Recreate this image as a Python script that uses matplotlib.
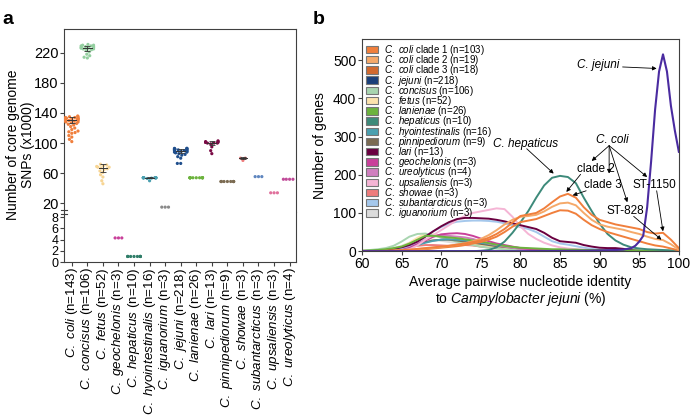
import warnings
import numpy as np
import pandas as pd
import matplotlib
matplotlib.use('Agg')
import matplotlib.pyplot as plt
from matplotlib.patches import Patch
import seaborn as sns

warnings.filterwarnings('ignore')

plt.rcParams['font.family'] = ['Liberation Sans', 'DejaVu Sans']
plt.rcParams['mathtext.fontset'] = 'custom'
plt.rcParams['mathtext.rm'] = 'Liberation Sans'
plt.rcParams['mathtext.it'] = 'Liberation Sans:italic'

# ---- panel a data (core genome SNPs, x1000) ----
species_a = ['coli', 'concisus', 'fetus', 'geochelonis', 'hepaticus', 'hyointestinalis',
             'iguanorium', 'jejuni', 'lanienae', 'lari', 'pinnipediorum', 'showae',
             'subantarcticus', 'upsaliensis', 'ureolyticus']
n_a = [143, 106, 52, 3, 10, 16, 3, 218, 26, 13, 9, 3, 3, 3, 4]
colors_a = ['#f07f3c', '#94cfa0', '#f7d594', '#c9409a', '#2f7d68', '#4aa0b0', '#8a8a8a',
            '#1f4e8c', '#6cb33e', '#7a0a45', '#7b6b52', '#ee7c7c', '#5f86bf', '#e0709c', '#c04a98']

coli_snp = [136, 135, 135, 134, 134, 133, 133, 133, 132, 132, 132, 131, 131, 131, 130, 130, 130,
            129, 129, 128, 128, 127, 126, 125, 124, 122, 120, 118, 116, 115, 114, 113, 110, 108, 105, 102]
concisus_snp = [231, 230, 230, 229, 229, 228, 228, 227, 227, 226, 226, 225, 225, 224, 223, 221,
                218, 216, 214, 213]
fetus_snp = [72, 71, 70, 69, 68, 68, 67, 66, 65, 63, 61, 58, 55, 50, 46]
geochelonis_snp = [4.3, 4.3, 4.3]
hepaticus_snp = [1.0, 1.0, 1.0, 1.0, 1.0, 1.0, 1.0, 1.0, 1.0, 1.0]
hyoint_snp = [54, 54, 54, 54, 54, 54, 54, 54, 54, 54, 54, 53.5, 53, 50]
iguanorium_snp = [15, 15, 15]
jejuni_snp = [93, 93, 93, 92, 92, 92, 92, 91, 91, 91, 90, 90, 90, 89, 89, 88, 88, 87, 86, 85,
              84, 82, 80, 73, 73]
lanienae_snp = [54, 54, 54, 54, 54, 54, 54, 54, 54, 54, 54, 54]
lari_snp = [103, 102, 102, 101, 101, 101, 100, 100, 100, 99, 95, 90, 86]
pinni_snp = [49, 49, 49, 49, 49, 49, 49, 49, 49]
showae_snp = [80, 80, 77]
subant_snp = [55.5, 55.5, 55.5]
upsal_snp = [34, 34, 34]
ureol_snp = [52, 52, 52, 52]

err_mean = [131, 226, 67, 4.3, 1.0, 54, 15, 90, 54, 100, 49, 80, 55.5, 34, 52]
err_sd = [4, 3.5, 5, 0, 0, 0.6, 0, 2.5, 0, 3, 0, 1.5, 0, 0, 0]

# ---- panel b data (distribution of gene identity) ----
ident = list(range(60, 101))
coli1 = [0, 0, 0, 1, 2, 3, 4, 6, 8, 10, 12, 14, 17, 20, 24, 28, 35, 45, 58, 75,
         92, 96, 100, 112, 128, 143, 150, 140, 115, 95, 82, 76, 70, 66, 62, 58, 50, 46, 48, 30, 8]
coli2 = [0, 0, 0, 0, 1, 2, 3, 5, 7, 9, 11, 14, 17, 21, 26, 32, 42, 55, 70, 82,
         90, 92, 95, 104, 116, 125, 127, 120, 100, 82, 70, 64, 60, 56, 50, 45, 38, 32, 29, 18, 4]
coli3 = [0, 0, 0, 0, 1, 1, 2, 3, 5, 7, 9, 11, 13, 16, 20, 24, 30, 38, 50, 64,
         76, 80, 84, 92, 100, 107, 106, 98, 82, 68, 58, 50, 44, 38, 32, 26, 20, 15, 12, 7, 2]
hepaticus = [0, 0, 0, 0, 0, 0, 0, 0, 0, 0, 0, 0, 0, 0, 0, 1, 3, 10, 25, 48,
             75, 105, 140, 172, 192, 197, 194, 178, 140, 105, 72, 45, 28, 17, 10, 7, 5, 4, 3, 2, 1]
lari = [0, 0, 1, 3, 6, 10, 16, 25, 38, 52, 65, 76, 84, 87, 87, 86, 85, 82, 78, 73,
        68, 63, 58, 48, 35, 26, 24, 22, 16, 12, 9, 8, 8, 6, 3, 1, 0, 0, 0, 0, 0]
subantarcticus = [0, 1, 2, 3, 5, 8, 14, 25, 38, 52, 63, 72, 77, 79, 80, 80, 79, 77, 73, 68,
                  63, 58, 50, 38, 26, 20, 17, 13, 9, 6, 4, 3, 2, 1, 0, 0, 0, 0, 0, 0, 0]
upsaliensis = [0, 0, 0, 0, 1, 2, 5, 15, 30, 42, 55, 68, 82, 92, 100, 104, 108, 112, 110, 90,
               65, 45, 32, 22, 15, 10, 7, 5, 4, 3, 2, 1, 1, 0, 0, 0, 0, 0, 0, 0, 0]
concisus = [1, 3, 5, 8, 14, 25, 38, 45, 46, 42, 36, 30, 25, 20, 16, 12, 9, 7, 5, 4,
            3, 2, 2, 1, 1, 1, 0, 0, 0, 0, 0, 0, 0, 0, 0, 0, 0, 0, 0, 0, 0]
fetus = [0, 0, 1, 3, 6, 12, 22, 35, 45, 44, 40, 35, 30, 25, 20, 15, 12, 9, 7, 5,
         4, 3, 2, 1, 1, 0, 0, 0, 0, 0, 0, 0, 0, 0, 0, 0, 0, 0, 0, 0, 0]
lanienae = [1, 2, 3, 5, 8, 12, 20, 30, 40, 40, 38, 36, 34, 31, 28, 25, 21, 17, 14, 11,
            9, 8, 7, 6, 5, 5, 4, 4, 3, 3, 3, 2, 2, 2, 2, 2, 1, 1, 1, 1, 0]
hyointestinalis = [0, 0, 1, 2, 3, 6, 10, 16, 22, 27, 30, 31, 30, 28, 25, 22, 19, 16, 13, 10,
                   8, 6, 5, 4, 3, 2, 1, 1, 0, 0, 0, 0, 0, 0, 0, 0, 0, 0, 0, 0, 0]
pinnipediorum = [0, 0, 1, 2, 4, 7, 12, 18, 24, 28, 30, 30, 28, 25, 22, 19, 16, 13, 11, 9,
                 7, 5, 4, 3, 2, 1, 1, 0, 0, 0, 0, 0, 0, 0, 0, 0, 0, 0, 0, 0, 0]
geochelonis = [0, 0, 1, 2, 4, 6, 10, 18, 28, 38, 44, 46, 47, 45, 40, 33, 26, 20, 16, 12,
               8, 6, 4, 3, 2, 1, 1, 0, 0, 0, 0, 0, 0, 0, 0, 0, 0, 0, 0, 0, 0]
ureolyticus = [0, 0, 1, 2, 4, 7, 12, 20, 30, 38, 42, 40, 38, 36, 32, 26, 20, 16, 12, 9,
               6, 4, 3, 2, 1, 1, 0, 0, 0, 0, 0, 0, 0, 0, 0, 0, 0, 0, 0, 0, 0]
showae = [1, 1, 2, 3, 4, 6, 10, 14, 16, 16, 15, 14, 15, 16, 15, 12, 10, 9, 8, 7,
          6, 5, 4, 3, 2, 2, 1, 1, 1, 0, 0, 0, 0, 0, 0, 0, 0, 0, 0, 0, 0]
iguanorium = [0, 1, 2, 4, 8, 14, 22, 30, 32, 30, 27, 24, 21, 18, 15, 12, 9, 7, 5, 4,
              3, 2, 1, 1, 0, 0, 0, 0, 0, 0, 0, 0, 0, 0, 0, 0, 0, 0, 0, 0, 0]
jejuni_x = [60, 70, 80, 88, 90, 92, 93, 94, 94.5, 95, 95.5, 96, 96.5, 97, 97.5, 98, 98.5, 99, 99.5, 100]
jejuni = [0, 0, 0, 1, 2, 3, 4, 8, 14, 25, 40, 115, 235, 370, 470, 515, 470, 380, 315, 260]

leg_labels = [r'$\it{C.\ coli}$ clade 1 (n=103)', r'$\it{C.\ coli}$ clade 2 (n=19)',
              r'$\it{C.\ coli}$ clade 3 (n=18)', r'$\it{C.\ jejuni}$ (n=218)',
              r'$\it{C.\ concisus}$ (n=106)', r'$\it{C.\ fetus}$ (n=52)',
              r'$\it{C.\ lanienae}$ (n=26)', r'$\it{C.\ hepaticus}$ (n=10)',
              r'$\it{C.\ hyointestinalis}$ (n=16)', r'$\it{C.\ pinnipediorum}$ (n=9)',
              r'$\it{C.\ lari}$ (n=13)', r'$\it{C.\ geochelonis}$ (n=3)',
              r'$\it{C.\ ureolyticus}$ (n=4)', r'$\it{C.\ upsaliensis}$ (n=3)',
              r'$\it{C.\ showae}$ (n=3)', r'$\it{C.\ subantarcticus}$ (n=3)',
              r'$\it{C.\ iguanorium}$ (n=3)']
leg_colors = ['#f07f3c', '#f5a96a', '#d2692e', '#1a3f7a', '#a8d5b0', '#fde3ad', '#6cb33e',
              '#3d8a7a', '#4aa0b0', '#7b6b52', '#6a0040', '#c9409a', '#cf7fbe', '#f5b5d5',
              '#ee7c7c', '#a5c8ec', '#dcdcdc']

# ---- figure ----
fig = plt.figure(figsize=(6.92, 4.2), dpi=100)
spc = '#404040'

axt = fig.add_axes([0.0925, 0.495, 0.335, 0.436])
axb = fig.add_axes([0.0925, 0.376, 0.335, 0.119])

snp_lists = [coli_snp, concisus_snp, fetus_snp, geochelonis_snp, hepaticus_snp, hyoint_snp,
             iguanorium_snp, jejuni_snp, lanienae_snp, lari_snp, pinni_snp, showae_snp,
             subant_snp, upsal_snp, ureol_snp]
rows = []
for sp, vals in zip(species_a, snp_lists):
    for v in vals:
        rows.append((sp, v))
df = pd.DataFrame(rows, columns=['species', 'snp'])
pal = dict(zip(species_a, colors_a))

top_lim = (8.4, 251.5)
bot_lim = (0, 8.9)
sns.swarmplot(data=df[df.snp > top_lim[0]], x='species', y='snp', order=species_a,
              hue='species', palette=pal, legend=False, size=2.3, ax=axt)
sns.swarmplot(data=df[df.snp <= top_lim[0]], x='species', y='snp', order=species_a,
              hue='species', palette=pal, legend=False, size=2.3, ax=axb)

# mean +/- sd bars
for i, (m, s) in enumerate(zip(err_mean, err_sd)):
    if s > 0:
        axt.errorbar(i, m, yerr=s, color='#333333', lw=0.6, capsize=2, capthick=0.6, zorder=5)
        axt.plot([i - 0.28, i + 0.28], [m, m], color='#333333', lw=0.7, zorder=5)

for ax in (axt, axb):
    ax.set_xlim(-0.5, 14.4)
    ax.set_xlabel('')
    ax.set_ylabel('')
    for s in ax.spines.values():
        s.set_color(spc)
        s.set_linewidth(0.8)
    ax.tick_params(direction='out', length=3, width=0.8, color=spc, labelsize=10.5, pad=1)

axt.set_ylim(*top_lim)
axt.set_yticks([20, 60, 100, 140, 180, 220])
axt.spines['bottom'].set_visible(False)
axt.tick_params(axis='x', bottom=False, labelbottom=False)

axb.set_ylim(*bot_lim)
axb.set_yticks([0, 2, 4, 6, 8])
axb.tick_params(axis='y', labelsize=9, pad=1)
axb.spines['top'].set_visible(False)
axb.set_xticks(range(len(species_a)))
xlabels = [r'$\it{C.\ %s}$ (n=%d)' % (sp, n) for sp, n in zip(species_a, n_a)]
axb.set_xticklabels(xlabels, rotation=90, fontsize=9.6)

# break marks on the left spine
axt.plot([-0.012, 0.012], [0.012, 0.012], transform=axt.transAxes,
         color=spc, lw=0.8, clip_on=False)
axb.plot([-0.012, 0.012], [0.96, 0.96], transform=axb.transAxes,
         color=spc, lw=0.8, clip_on=False)

fig.text(0.03, 0.655, 'Number of core genome\nSNPs (x1000)', rotation=90, ha='center',
         va='center', fontsize=10, linespacing=1.1)

# ---- panel b ----
axr = fig.add_axes([0.523, 0.402, 0.458, 0.505])
curves = [
    (iguanorium, '#dcdcdc'), (showae, '#ee7c7c'), (fetus, '#fde3ad'), (concisus, '#a8d5b0'),
    (pinnipediorum, '#7b6b52'), (hyointestinalis, '#4aa0b0'), (ureolyticus, '#cf7fbe'),
    (geochelonis, '#c9409a'), (subantarcticus, '#a5c8ec'), (upsaliensis, '#f5b5d5'),
    (lari, '#6a0040'), (lanienae, '#6cb33e'), (hepaticus, '#3d8a7a'),
    (coli3, '#f07f3c'), (coli2, '#f5a96a'), (coli1, '#f07f3c'),
]
for yv, c in curves:
    axr.plot(ident, yv, color=c, lw=1.4, solid_joinstyle='round')
axr.plot(jejuni_x, jejuni, color='#4a2ba0', lw=1.5)

axr.set_xlim(60, 100)
axr.set_ylim(0, 555)
axr.set_xticks(range(60, 101, 5))
axr.set_yticks(range(0, 501, 100))
for s in axr.spines.values():
    s.set_color(spc)
    s.set_linewidth(0.8)
axr.tick_params(direction='out', length=3, width=0.8, color=spc, labelsize=10, pad=1)
axr.set_xlabel('Average pairwise nucleotide identity\nto $\\it{Campylobacter\\ jejuni}$ (%)',
               fontsize=10, linespacing=1.1, labelpad=3)
axr.set_ylabel('Number of genes', fontsize=10, labelpad=4)

handles = [Patch(facecolor=c, edgecolor='#777777', lw=0.8) for c in leg_colors]
axr.legend(handles, leg_labels, loc='upper left', frameon=False, fontsize=7,
           handlelength=1.3, handleheight=0.8, handletextpad=0.6, labelspacing=-0.39,
           borderaxespad=0.15, borderpad=0.25)

ap = dict(arrowstyle='-|>', color='black', lw=0.6, mutation_scale=6, shrinkA=0, shrinkB=0)
fs = 8.5
axr.text(89.8, 487, 'C. jejuni', style='italic', fontsize=fs, ha='center', va='center')
axr.annotate('', xy=(97.2, 478), xytext=(92.9, 482), arrowprops=ap)
axr.text(80.6, 281, 'C. hepaticus', style='italic', fontsize=fs, ha='center', va='center')
axr.annotate('', xy=(84.2, 203), xytext=(80.8, 268), arrowprops=ap)
axr.text(91.6, 292, 'C. coli', style='italic', fontsize=fs, ha='center', va='center')
for tx, ty in [(89.0, 236), (91.2, 203), (93.5, 128), (96.0, 194)]:
    axr.annotate('', xy=(tx, ty), xytext=(91.2, 276), arrowprops=ap)
axr.text(89.5, 216, 'clade 2', fontsize=fs, ha='center', va='center')
axr.annotate('', xy=(85.8, 155), xytext=(87.6, 201), arrowprops=ap)
axr.text(90.4, 172, 'clade 3', fontsize=fs, ha='center', va='center')
axr.annotate('', xy=(86.6, 146), xytext=(88.3, 158), arrowprops=ap)
axr.text(96.9, 172, 'ST-1150', fontsize=fs, ha='center', va='center')
axr.annotate('', xy=(98.0, 52), xytext=(97.2, 158), arrowprops=ap)
axr.text(93.3, 105, 'ST-828', fontsize=fs, ha='center', va='center')
axr.annotate('', xy=(97.8, 30), xytext=(94.3, 91), arrowprops=ap)

fig.text(0.003, 0.975, 'a', fontsize=14, fontweight='bold', va='top')
fig.text(0.452, 0.975, 'b', fontsize=14, fontweight='bold', va='top')

fig.savefig('out.png', dpi=100)
